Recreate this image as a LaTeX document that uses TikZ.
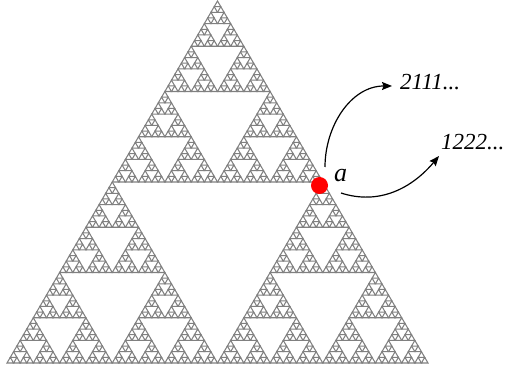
\documentclass[tikz,border=0pt]{standalone}
\usepackage{fontspec}
\setmainfont{Liberation Serif}
\usetikzlibrary{arrows.meta}
\definecolor{sgray}{RGB}{128,128,128}
\definecolor{dotred}{RGB}{255,0,0}
\newcommand\sierptri[4]{%
  \ifnum#4=0\relax
    \draw[tri] (#1,#2) -- ++(#3,0) -- ++(-#3/2,#3) -- cycle;
  \else
    \begingroup
    \pgfmathsetmacro\sh{#3/2}%
    \pgfmathsetmacro\sxa{#1+#3/2}%
    \pgfmathsetmacro\sxb{#1+#3/4}%
    \pgfmathsetmacro\syb{#2+#3/2}%
    \pgfmathtruncatemacro\sd{#4-1}%
    \edef\snext{\noexpand\sierptri{#1}{#2}{\sh}{\sd}%
      \noexpand\sierptri{\sxa}{#2}{\sh}{\sd}%
      \noexpand\sierptri{\sxb}{\syb}{\sh}{\sd}}%
    \snext
    \endgroup
  \fi}
\begin{document}
\begin{tikzpicture}[x=1pt,y=1pt,
  tri/.style={draw=sgray,line width=1.05pt,line join=miter},
  lbl/.style={font=\fontsize{23}{27}\selectfont\itshape,inner sep=0pt},
  arr/.style={line width=1.2pt,-{Stealth[length=10pt,width=8pt,inset=1.5pt]}}]
\useasboundingbox (0,0) rectangle (506,372);
\begin{scope}[shift={(7,9)},xscale=421,yscale=362]
  \sierptri{0}{0}{1}{6}
\end{scope}
\node[circle,fill=dotred,minimum size=17pt,inner sep=0pt] (p) at (319.5,186.5) {};
\node[inner sep=0pt,font=\fontsize{26}{30}\selectfont\itshape] (a) at (340.5,196) {a};
\node[lbl,anchor=base west] (t1) at (400,282) {2111...};
\node[lbl,anchor=base west] (t2) at (441,222) {1222...};
\coordinate (s1) at ([shift={(5.5,18.5)}]p.center);
\coordinate (s2) at ([shift={(21.5,-7.5)}]p.center);
\draw[arr] (s1) to[out=90,in=180] ([shift={(-8,4)}]t1.base west);
\draw[arr] (s2) to[out=-18,in=230] ([shift={(-2,-6)}]t2.base west);
\end{tikzpicture}
\end{document}
